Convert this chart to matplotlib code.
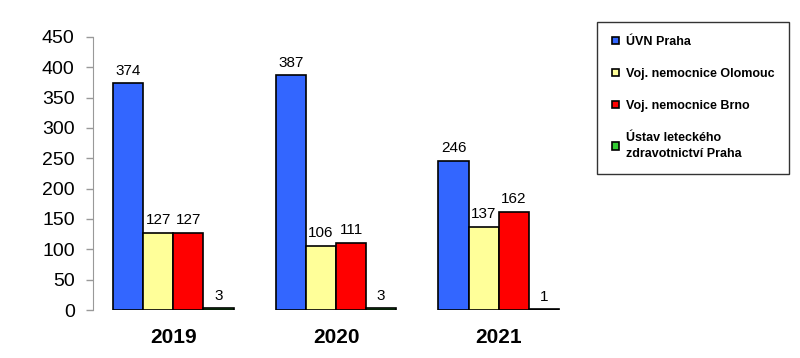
import matplotlib
matplotlib.use("Agg")
import matplotlib.pyplot as plt
import numpy as np

plt.rcParams['font.family'] = ['Liberation Sans', 'DejaVu Sans']

years = ["2019", "2020", "2021"]
series_names = ["ÚVN Praha", "Voj. nemocnice Olomouc", "Voj. nemocnice Brno",
                "Ústav leteckého\nzdravotnictví Praha"]
uvn = [374, 387, 246]
olomouc = [127, 106, 137]
brno = [127, 111, 162]
ulz = [3, 3, 1]
colors = ["#3366FF", "#FFFF99", "#FF0000", "#33CC33"]

fig = plt.figure(figsize=(8, 3.58), dpi=100)
ax = fig.add_axes([0.116, 0.134, 0.608, 0.763])

x = np.arange(len(years))
w = 0.185
handles = []
for i, (vals, c, name) in enumerate(zip([uvn, olomouc, brno, ulz], colors, series_names)):
    pos = x + (i - 1.5) * w
    b = ax.bar(pos, vals, w, color=c, edgecolor="black", linewidth=1.2, label=name)
    handles.append(b)
    for px, v in zip(pos, vals):
        ax.text(px, v + 9, str(v), ha="center", va="bottom", fontsize=11)

ax.set_xlim(-0.495, 2.495)
ax.set_ylim(0, 450)
ax.set_yticks(range(0, 451, 50))
ax.tick_params(axis="y", labelsize=14, color="#999999", length=5, width=1, pad=8)
ax.set_xticks(x)
ax.set_xticklabels(years, fontsize=15, fontweight="bold")
ax.tick_params(axis="x", length=0, pad=13)
for s in ["top", "right", "bottom"]:
    ax.spines[s].set_visible(False)
ax.spines["left"].set_color("#999999")

leg = fig.legend(handles=handles, loc="upper left", bbox_to_anchor=(0.739, 0.957),
                 frameon=True, fancybox=False, edgecolor="black",
                 prop={"weight": "bold", "size": 9}, handlelength=0.55, handleheight=0.55,
                 labelspacing=1.6, borderpad=1.15, handletextpad=0.6)
for t in leg.get_texts():
    t.set_linespacing(1.45)
leg.get_frame().set_linewidth(1)

fig.savefig("out.png", dpi=100)
